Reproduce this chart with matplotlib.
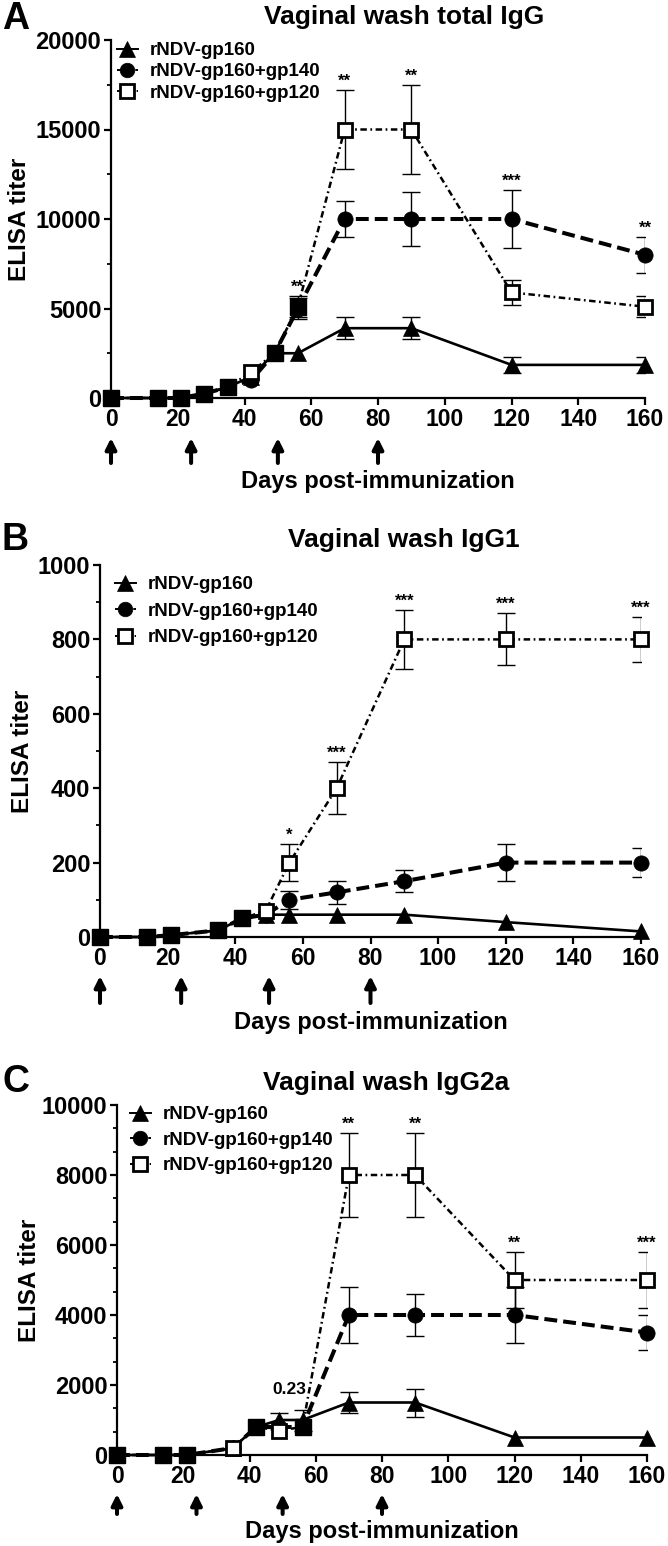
import matplotlib
matplotlib.use("Agg")
import matplotlib.pyplot as plt
from matplotlib.lines import Line2D
from matplotlib.ticker import MultipleLocator, AutoMinorLocator

W, H = 668, 1546

plt.rcParams["font.family"] = ["Liberation Sans", "DejaVu Sans"]
plt.rcParams["font.weight"] = "bold"

# ---------------- data ----------------
SERIES_NAMES = ["rNDV-gp160", "rNDV-gp160+gp140", "rNDV-gp160+gp120"]
BOOST_DAYS = [0, 24, 50, 80]

DAYS_A = [0, 14, 21, 28, 35, 42, 49, 56, 70, 90, 120, 160]
A_GP160 = [0, 0, 0, 250, 600, 1200, 2500, 2500, 3900, 3900, 1850, 1850]
A_GP160_ERR = [0, 0, 0, 0, 0, 0, 0, 0, 600, 600, 450, 450]
A_GP140 = [0, 0, 0, 250, 600, 1000, 2500, 5000, 10000, 10000, 10000, 8000]
A_GP140_ERR = [0, 0, 0, 0, 0, 0, 0, 600, 1000, 1500, 1600, 1000]
A_GP120 = [0, 0, 0, 250, 600, 1450, 2500, 5100, 15000, 15000, 5900, 5100]
A_GP120_ERR = [0, 0, 0, 0, 0, 0, 0, 600, 2200, 2500, 700, 600]
A_FILLED = [0, 14, 21, 28, 35, 49, 56]
A_STAR_DAYS = [56, 70, 90, 120, 160]
A_STARS = ["**", "**", "**", "***", "**"]

DAYS_B = [0, 14, 21, 35, 42, 49, 56, 70, 90, 120, 160]
B_GP160 = [0, 0, 5, 18, 50, 60, 60, 60, 60, 40, 15]
B_GP160_ERR = [0, 0, 0, 0, 0, 0, 0, 0, 0, 0, 0]
B_GP140 = [0, 0, 5, 18, 50, 60, 100, 120, 150, 200, 200]
B_GP140_ERR = [0, 0, 0, 0, 0, 0, 25, 30, 30, 50, 40]
B_GP120 = [0, 0, 5, 18, 50, 70, 200, 400, 800, 800, 800]
B_GP120_ERR = [0, 0, 0, 0, 0, 0, 50, 70, 80, 70, 60]
B_FILLED = [0, 14, 21, 35, 42]
B_STAR_DAYS = [56, 70, 90, 120, 160]
B_STARS = ["*", "***", "***", "***", "***"]

DAYS_C = [0, 14, 21, 35, 42, 49, 56, 70, 90, 120, 160]
C_GP160 = [0, 0, 0, 200, 800, 1000, 1000, 1500, 1500, 500, 500]
C_GP160_ERR = [0, 0, 0, 0, 0, 200, 300, 300, 400, 0, 0]
C_GP140 = [0, 0, 0, 200, 800, 800, 800, 4000, 4000, 4000, 3500]
C_GP140_ERR = [0, 0, 0, 0, 0, 0, 0, 800, 600, 800, 500]
C_GP120 = [0, 0, 0, 200, 800, 700, 800, 8000, 8000, 5000, 5000]
C_GP120_ERR = [0, 0, 0, 0, 0, 0, 0, 1200, 1200, 800, 800]
C_FILLED = [0, 14, 21, 42, 56]
C_STAR_DAYS = [70, 90, 120, 160]
C_STARS = ["**", "**", "**", "***"]
C_PVAL_DAY, C_PVAL_Y, C_PVAL_TEXT = 52, 1650, "0.23"


def fx(x):
    return x / W


def fy(y):
    return 1 - y / H


def draw_panel(fig, box, letter, title, title_x, title_base, letter_base,
               days, series, filled, star_days, stars, ymax, ystep, yminor,
               leg, xlabel_base, ylabel_x, arrows):
    x0, x1, top, bot = box
    ax = fig.add_axes([fx(x0), fy(bot), fx(x1 - x0), (bot - top) / H])
    hpx = bot - top

    styles = [
        dict(ls="-", lw=1.9, marker="^", ms=11.5, mew=0.5),
        dict(ls=(0, (3.2, 1.5)), lw=2.9, marker="o", ms=11, mew=0.5),
        dict(ls=(0, (2.6, 1.4, 0.7, 1.4)), lw=1.8, marker="s", ms=10.5, mew=2.0),
    ]
    for (vals, errs), st in zip(series, styles):
        ax.plot(days, vals, color="k", ls=st["ls"], lw=st["lw"], zorder=2,
                clip_on=False)
    for (vals, errs), st in zip(series, styles):
        ex = [d for d, e in zip(days, errs) if e > 0]
        ey = [v for v, e in zip(vals, errs) if e > 0]
        ee = [e for e in errs if e > 0]
        if ex:
            ax.errorbar(ex, ey, yerr=ee, fmt="none", ecolor="k", elinewidth=1.0,
                        capsize=6.5, capthick=1.0, zorder=2.5)
    for i, ((vals, errs), st) in enumerate(zip(series, styles)):
        fc = "white" if i == 2 else "k"
        ax.plot(days, vals, ls="none", marker=st["marker"], ms=st["ms"],
                mfc=fc, mec="k", mew=st["mew"], zorder=3 + i * 0.1, clip_on=False)
    # overlapping early points appear as solid squares
    gp120 = series[2][0]
    fd = [d for d in days if d in filled]
    fv = [v for d, v in zip(days, gp120) if d in filled]
    ax.plot(fd, fv, ls="none", marker="s", ms=12, mfc="k", mec="k",
            zorder=4, clip_on=False)

    # significance stars above the highest error bar
    for d, s in zip(star_days, stars):
        i = days.index(d)
        tops = [vals[i] + errs[i] for vals, errs in series]
        ax.annotate(s, (d, max(tops)), xytext=(0, 3), textcoords="offset points",
                    ha="center", va="baseline", fontsize=12, fontweight="bold")

    ax.set_xlim(0, 160)
    ax.set_ylim(0, ymax)
    ax.xaxis.set_major_locator(MultipleLocator(20))
    ax.yaxis.set_major_locator(MultipleLocator(ystep))
    ax.yaxis.set_minor_locator(AutoMinorLocator(yminor))
    for s in ["top", "right"]:
        ax.spines[s].set_visible(False)
    for s in ["left", "bottom"]:
        ax.spines[s].set_linewidth(1.6)
    ax.tick_params(axis="both", which="major", length=5, width=1.6, pad=2)
    ax.tick_params(axis="x", which="major", labelsize=16.5)
    ax.tick_params(axis="y", which="major", labelsize=17)
    ax.tick_params(axis="y", which="minor", length=3, width=1.3)
    ax.tick_params(axis="x", which="minor", length=0)
    for lab in ax.get_xticklabels() + ax.get_yticklabels():
        lab.set_fontweight("bold")

    # immunization arrows below the x axis
    tip, tail = arrows
    for d in BOOST_DAYS:
        ax.annotate("", xy=(d, -tip / hpx), xytext=(d, -tail / hpx),
                    xycoords=("data", "axes fraction"),
                    textcoords=("data", "axes fraction"),
                    arrowprops=dict(arrowstyle="-|>", lw=2.9, color="k",
                                    mutation_scale=16, shrinkA=0, shrinkB=0))

    # legend
    handles = [Line2D([], [], color="k", ls=st["ls"], lw=1.4, marker=st["marker"],
                      ms=st["ms"] - 0.5, mfc=("white" if i == 2 else "k"), mec="k",
                      mew=st["mew"])
               for i, st in enumerate(styles)]
    lx, ly, spacing, pad = leg
    ax.legend(handles, SERIES_NAMES, loc="upper left", frameon=False,
              bbox_to_anchor=((lx - x0) / (x1 - x0), (bot - ly) / hpx),
              borderpad=0, borderaxespad=0, handlelength=1.1,
              handletextpad=pad, labelspacing=spacing,
              prop=dict(size=13.5, weight="bold"))

    fig.text(fx(title_x), fy(title_base), title, ha="center", va="baseline",
             fontsize=19, fontweight="bold")
    fig.text(fx(2), fy(letter_base), letter, ha="left", va="baseline",
             fontsize=27, fontweight="bold")
    fig.text(fx((x0 + x1) / 2), fy(xlabel_base), "Days post-immunization",
             ha="center", va="baseline", fontsize=17, fontweight="bold")
    fig.text(fx(ylabel_x), fy((top + bot) / 2), "ELISA titer", rotation=90,
             ha="center", va="center", fontsize=17.5, fontweight="bold")
    return ax


fig = plt.figure(figsize=(W / 100, H / 100), dpi=100)

ax_a = draw_panel(
    fig, (111, 645, 40, 398), "A", "Vaginal wash total IgG", 404, 24, 29,
    DAYS_A,
    [(A_GP160, A_GP160_ERR), (A_GP140, A_GP140_ERR), (A_GP120, A_GP120_ERR)],
    A_FILLED, A_STAR_DAYS, A_STARS, 20000, 5000, 2,
    (117, 42, 0.22, 0.65), 488, 20, (40, 65))

ax_b = draw_panel(
    fig, (100, 641, 565, 937), "B", "Vaginal wash IgG1", 404, 547, 550,
    DAYS_B,
    [(B_GP160, B_GP160_ERR), (B_GP140, B_GP140_ERR), (B_GP120, B_GP120_ERR)],
    B_FILLED, B_STAR_DAYS, B_STARS, 1000, 200, 2,
    (115, 576, 0.5, 0.65), 1029, 23, (39, 66))

ax_c = draw_panel(
    fig, (117, 647, 1105, 1455), "C", "Vaginal wash IgG2a", 386, 1090, 1092,
    DAYS_C,
    [(C_GP160, C_GP160_ERR), (C_GP140, C_GP140_ERR), (C_GP120, C_GP120_ERR)],
    C_FILLED, C_STAR_DAYS, C_STARS, 10000, 2000, 3,
    (130, 1106, 0.45, 0.65), 1538, 29, (39, 59))
ax_c.text(C_PVAL_DAY, C_PVAL_Y, C_PVAL_TEXT, ha="center", va="bottom",
          fontsize=12.5, fontweight="bold")

fig.savefig("out.png", dpi=100)
